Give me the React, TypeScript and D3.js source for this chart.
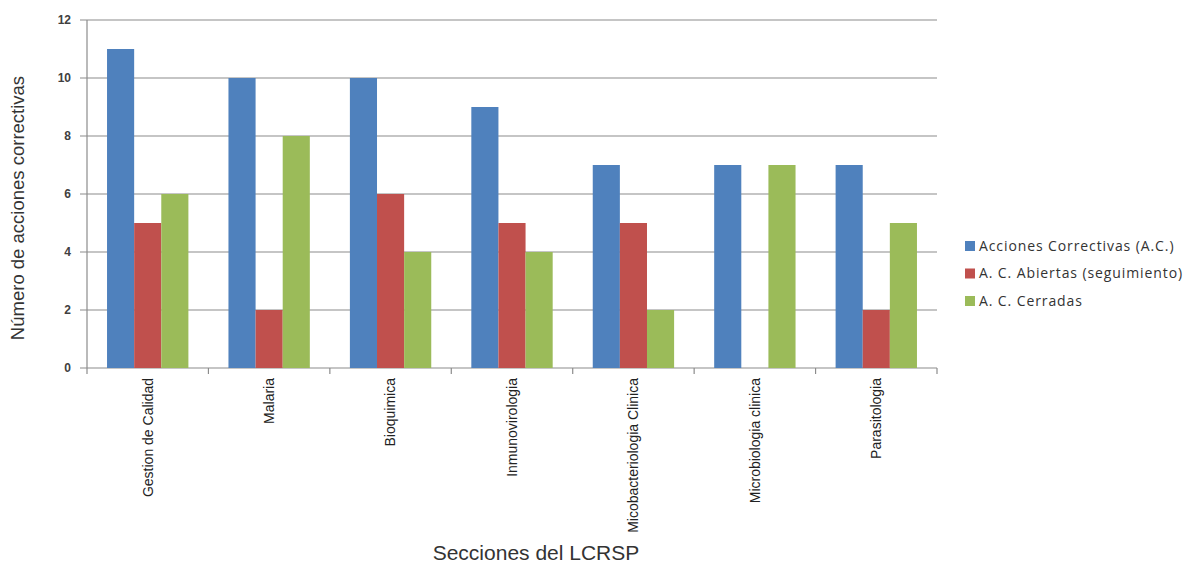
import React from "react";
import * as d3 from "d3";

const categories = [
  "Gestion de Calidad",
  "Malaria",
  "Bioquimica",
  "Inmunovirologia",
  "Micobacteriologia Clinica",
  "Microbiologia clinica",
  "Parasitologia",
];
const seriesNames = [
  "Acciones Correctivas (A.C.)",
  "A. C. Abiertas (seguimiento)",
  "A. C. Cerradas",
];
const accionesCorrectivas = [11, 10, 10, 9, 7, 7, 7];
const abiertas = [5, 2, 6, 5, 5, 0, 2];
const cerradas = [6, 8, 4, 4, 2, 7, 5];
const yTicks = [0, 2, 4, 6, 8, 10, 12];
const colors = ["#4F81BD", "#C0504D", "#9BBB59"];

export default function App() {
  const W = 1189, H = 563;
  const left = 87, right = 937, top = 20, bottom = 368;
  const values = [accionesCorrectivas, abiertas, cerradas];
  const x0 = d3.scaleBand<string>().domain(categories).range([left, right]).padding(0);
  const bw = x0.bandwidth();
  const x1 = d3.scaleBand<string>().domain(seriesNames).range([bw * 0.165, bw * 0.835]).padding(0);
  const y = d3.scaleLinear().domain([0, 12]).range([bottom, top]);
  const font = "'Liberation Sans', Arial, sans-serif";
  const narrow = "'Liberation Sans Narrow', 'Arial Narrow', 'Liberation Sans', sans-serif";

  return (
    <svg width={W} height={H} style={{ position: "absolute", left: 0, top: 0, background: "#fff" }}>
      {yTicks.map((t) => (
        <g key={t}>
          <line x1={left - 7} x2={right} y1={y(t)} y2={y(t)} stroke="#8c8c8c" strokeWidth={1.2} />
          <text x={left - 16} y={y(t)} dy="0.35em" textAnchor="end" fontFamily={font} fontSize={12} fontWeight="bold" fill="#404040">
            {t}
          </text>
        </g>
      ))}
      <line x1={left} x2={left} y1={top} y2={bottom} stroke="#8c8c8c" strokeWidth={1.2} />
      {categories.map((c, i) => (
        <line key={"tk" + i} x1={x0(c)! + bw} x2={x0(c)! + bw} y1={bottom} y2={bottom + 6} stroke="#8c8c8c" strokeWidth={1.2} />
      ))}
      <line x1={left} x2={left} y1={bottom} y2={bottom + 6} stroke="#8c8c8c" strokeWidth={1.2} />
      {categories.map((c, i) => (
        <g key={c}>
          {seriesNames.map((s, j) => {
            const v = values[j][i];
            if (v === 0) return null;
            return (
              <rect key={s} x={x0(c)! + x1(s)!} width={x1.bandwidth()} y={y(v)} height={y(0) - y(v)} fill={colors[j]} />
            );
          })}
          <text
            transform={`translate(${x0(c)! + bw / 2},${bottom + 10}) rotate(-90)`}
            textAnchor="end"
            dy="0.35em"
            fontFamily={narrow}
            fontSize={14}
            fill="#222"
          >
            {c}
          </text>
        </g>
      ))}
      <text transform={`translate(24,${(top + bottom) / 2 + 14}) rotate(-90)`} textAnchor="middle" fontFamily={narrow} fontSize={18.5} fill="#333">
        Número de acciones correctivas
      </text>
      <text x={536} y={560} textAnchor="middle" fontFamily={font} fontSize={21} fill="#333">
        Secciones del LCRSP
      </text>
      {seriesNames.map((s, j) => (
        <g key={"lg" + j} transform={`translate(965,${246 + j * 27.5})`}>
          <rect x={0} y={-5} width={10} height={10} fill={colors[j]} />
          <text x={14} y={0} dy="0.35em" fontFamily="'Open Sans', sans-serif" fontSize={14} letterSpacing={0.9} fill="#333">
            {s}
          </text>
        </g>
      ))}
    </svg>
  );
}
